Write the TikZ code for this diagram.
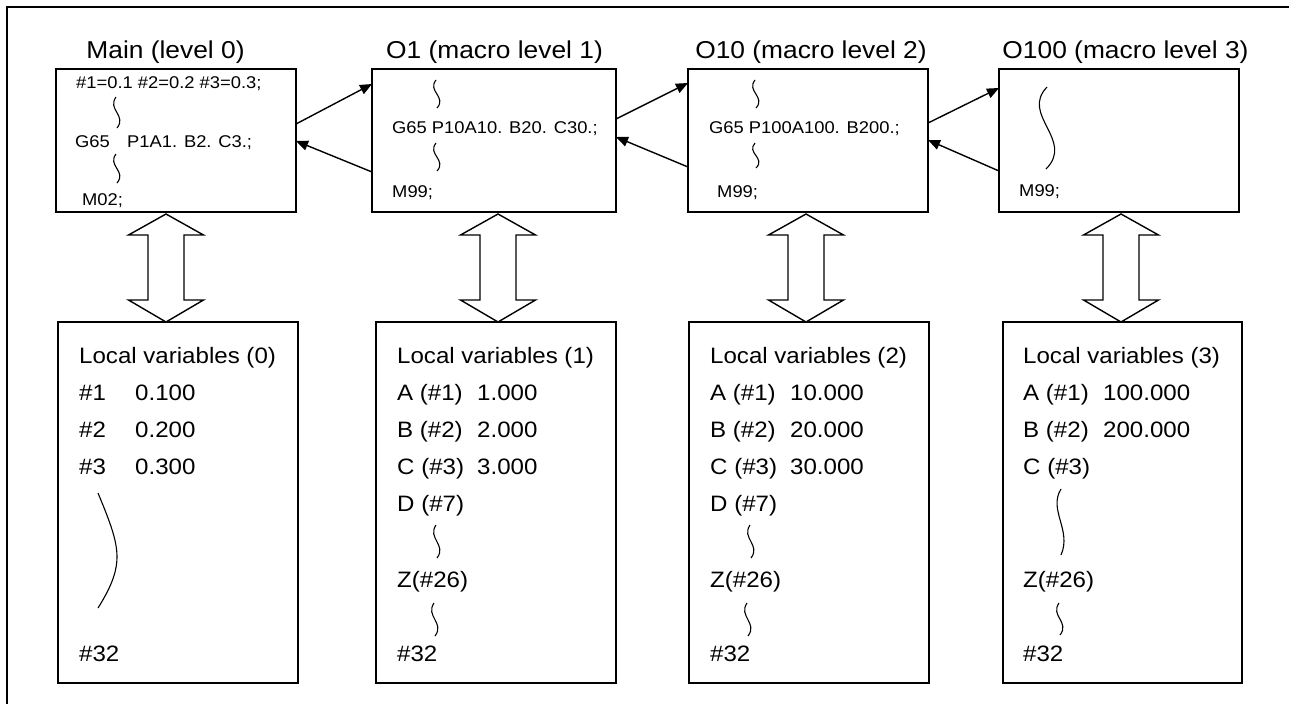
\documentclass[tikz,border=0pt]{standalone}
\usepackage{fontspec}
\setmainfont{Liberation Sans}[FakeStretch=1.08]
\usetikzlibrary{arrows.meta,calc}
% small vertical tilde: x, top y, bottom y
\newcommand\sqg[3]{\draw[squig] ({#1},#2) .. controls ({#1-9},{#2+0.4*(#3-#2)}) and ({#1+11},{#2+0.6*(#3-#2)}) .. ({#1+1},#3);}
% double-headed block arrow between a program box and its local-variable box
\newcommand\dblarr[4]{\draw[dblar] ($(#1.south)+(#3,2)$) -- ++(37.5,21) -- ++(-19.5,0) -- ++(0,65) -- ++(19.5,0) -- ($(#2.north)+(#4,0)$) -- ++(-37.5,-22) -- ++(19.5,0) -- ++(0,-65) -- ++(-19.5,0) -- cycle;}
\begin{document}
\begin{tikzpicture}[x=1pt,y=-1pt,
  prog/.style={draw,line width=1.4pt,inner sep=0pt,outer sep=0pt,minimum height=143pt,minimum width=240pt},
  locbox/.style={draw,line width=1.4pt,inner sep=0pt,outer sep=0pt,minimum height=361pt,minimum width=240pt},
  ttl/.style={font=\fontsize{24.4}{28}\selectfont,anchor=base,inner sep=0pt},
  sm/.style={font=\fontsize{17}{20}\selectfont,anchor=base west,inner sep=0pt},
  lv/.style={font=\fontsize{22.3}{26}\selectfont,anchor=base west,inner sep=0pt},
  conn/.style={line width=1.4pt,-{Triangle[length=12pt,width=10pt]}},
  squig/.style={line width=1.1pt},
  dblar/.style={line width=1.4pt,line join=miter},
  frame/.style={line width=2.2pt}]
\useasboundingbox (0,0) rectangle (1289,704);
\draw[frame] (7,704) -- (7,7) -- (1289,7);

% titles
\node[ttl] (tm) at (165.5,58) {Main (level 0)};
\node[ttl] (t1) at (494.5,58) {O1 (macro level 1)};
\node[ttl] (t2) at (811,58) {O10 (macro level 2)};
\node[ttl] (t3) at (1125.5,58) {O100 (macro level 3)};

% program boxes
\node[prog] (m) at (176,140.5) {};
\node[prog,minimum width=244pt] (o1) at (494,140.5) {};
\node[prog] (o10) at (808,140.5) {};
\node[prog] (o100) at (1119,140.5) {};

% local variable boxes
\node[locbox] (l0) at (178,502.5) {};
\node[locbox] (l1) at (496,502.5) {};
\node[locbox] (l2) at (809,502.5) {};
\node[locbox,minimum width=239pt] (l3) at (1122.5,502.5) {};

% call / return arrows
\draw[conn] ($(m.east)+(0,-16.5)$) -- ($(o1.west)+(0,-56.5)$);
\draw[conn] ($(o1.west)+(0,31.5)$) -- ($(m.east)+(0,0.5)$);
\draw[conn] ($(o1.east)+(0,-21.5)$) -- ($(o10.west)+(0,-57.5)$);
\draw[conn] ($(o10.west)+(0,26.5)$) -- ($(o1.east)+(0,-3.5)$);
\draw[conn] ($(o10.east)+(0,-17.5)$) -- ($(o100.west)+(0,-52.5)$);
\draw[conn] ($(o100.west)+(0,30.5)$) -- ($(o10.east)+(0,-0.5)$);

% double arrows
\dblarr{m}{l0}{-10}{-12}
\dblarr{o1}{l1}{4}{2}
\dblarr{o10}{l2}{-2}{-3}
\dblarr{o100}{l3}{2}{-1.5}

% Main program text
\node[sm] (m1) at (76,88) {\#1=0.1 \#2=0.2 \#3=0.3;};
\sqg{116}{97}{128}
\node[sm] (m2) at (75,147) {G65};
\node[sm] (m3) at (127,147) {P1A1. B2. C3.;};
\sqg{116}{154}{183}
\node[sm] (m4) at (82,205) {M02;};

% O1 text
\sqg{436}{80}{108}
\node[sm] (a1) at (392,133) {G65 P10A10. B20. C30.;};
\sqg{436}{143}{171}
\node[sm] (a2) at (392,197) {M99;};

% O10 text
\sqg{755}{80}{108}
\node[sm] (b1) at (709,133) {G65 P100A100. B200.;};
\sqg{755}{143}{168}
\node[sm] (b2) at (717,197) {M99;};

% O100 text
\draw[squig] (1047,87) .. controls (1020,115) and (1075,140) .. (1046,169);
\node[sm] (c1) at (1019,196) {M99;};

% Local variables (0)
\node[lv] (v0t) at (79,363) {Local variables (0)};
\node[lv] (v0a) at (79,400) {\#1};
\node[lv] (v0av) at (135,400) {0.100};
\node[lv] (v0b) at (79,437) {\#2};
\node[lv] (v0bv) at (135,437) {0.200};
\node[lv] (v0c) at (79,474) {\#3};
\node[lv] (v0cv) at (135,474) {0.300};
\draw[squig] (98,493) .. controls (110,522) and (117,540) .. (117,557) .. controls (117,575) and (108,592) .. (98,608);
\node[lv] (v0z) at (79,661) {\#32};

% Local variables (1)
\node[lv] (v1t) at (397,363) {Local variables (1)};
\node[lv] (v1a) at (397,400) {A (\#1)};
\node[lv] (v1av) at (477,400) {1.000};
\node[lv] (v1b) at (397,437) {B (\#2)};
\node[lv] (v1bv) at (477,437) {2.000};
\node[lv] (v1c) at (397,474) {C (\#3)};
\node[lv] (v1cv) at (477,474) {3.000};
\node[lv] (v1d) at (397,511) {D (\#7)};
\sqg{436}{525}{558}
\node[lv] (v1z) at (397,587) {Z(\#26)};
\sqg{434}{603}{636}
\node[lv] (v1e) at (397,661) {\#32};

% Local variables (2)
\node[lv] (v2t) at (710,363) {Local variables (2)};
\node[lv] (v2a) at (710,400) {A (\#1)};
\node[lv] (v2av) at (790,400) {10.000};
\node[lv] (v2b) at (710,437) {B (\#2)};
\node[lv] (v2bv) at (790,437) {20.000};
\node[lv] (v2c) at (710,474) {C (\#3)};
\node[lv] (v2cv) at (790,474) {30.000};
\node[lv] (v2d) at (710,511) {D (\#7)};
\sqg{750}{525}{558}
\node[lv] (v2z) at (710,587) {Z(\#26)};
\sqg{747}{603}{636}
\node[lv] (v2e) at (710,661) {\#32};

% Local variables (3)
\node[lv] (v3t) at (1023,363) {Local variables (3)};
\node[lv] (v3a) at (1023,400) {A (\#1)};
\node[lv] (v3av) at (1103,400) {100.000};
\node[lv] (v3b) at (1023,437) {B (\#2)};
\node[lv] (v3bv) at (1103,437) {200.000};
\node[lv] (v3c) at (1023,474) {C (\#3)};
\draw[squig] (1061,489) .. controls (1048,510) and (1072,530) .. (1061,555);
\node[lv] (v3z) at (1023,587) {Z(\#26)};
\sqg{1059}{603}{635}
\node[lv] (v3e) at (1023,661) {\#32};
\end{tikzpicture}
\end{document}
